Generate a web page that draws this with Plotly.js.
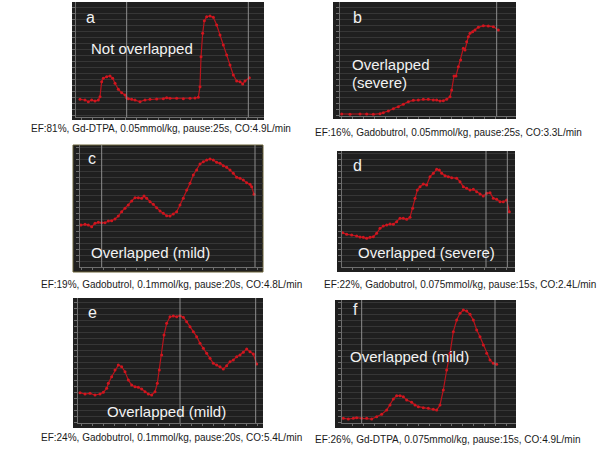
<!DOCTYPE html>
<html>
<head>
<meta charset="utf-8">
<script src="https://cdn.plot.ly/plotly-3.0.1.min.js"></script>
<style>html,body{margin:0;padding:0;background:#fff;}#chart{width:600px;height:450px;}</style>
</head>
<body>
<div id="chart"></div>
<script>
// ---- data (time units, signal intensity units) ----
const aTime=[3.0,4.5,5.5,6.5,7.5,8.5,9.0,9.5,10.0,11.0,12.0,12.8,13.5,14.5,15.5,16.5,17.0,17.5,18.5,19.5,21.0,22.5,24.0,26.0,28.0,29.0,30.0,32.0,34.0,36.0,37.5,38.5,39.0,39.3,39.8,40.3,41.0,42.0,43.0,44.0,45.0,46.0,47.0,48.0,49.0,50.0,51.0,51.8,52.5,53.8];
const aSignal=[102,100,95,100,97,100,110,155,165,170,172,165,150,132,122,115,107,104,102,100,95,100,102,103,104,107,105,105,104,105,106,108,140,230,300,338,350,352,348,325,295,265,235,205,175,157,155,148,157,167];
const aMarks=[17.0,53.5];

const bTime=[3.5,6.0,9.0,11.0,13.0,15.0,16.0,17.5,19.0,20.5,22.0,23.5,25.0,26.5,28.0,29.5,31.0,32.0,33.0,34.0,35.0,36.0,36.5,37.2,37.8,38.5,39.2,40.0,40.5,41.0,41.5,42.0,42.8,43.5,44.5,46.0,47.5,49.0,50.5];
const bSignal=[58,57,58,58,57,59,62,67,74,80,87,95,99,100,102,102,100,100,97,98,102,110,130,172,172,200,220,255,250,275,290,300,305,310,318,323,322,320,310];
const bMarks=[50.0];

const cTime=[3.3,4.5,5.5,6.5,7.5,8.5,9.5,10.5,11.5,12.5,13.5,14.5,15.5,16.5,17.5,18.5,19.5,20.5,21.5,22.2,23.0,24.0,25.0,26.0,27.0,28.0,29.0,30.0,31.0,32.0,33.0,34.0,35.0,36.0,37.0,38.0,39.0,40.0,41.0,42.0,43.0,44.0,45.0,46.0,47.0,48.0,49.0,50.0,51.0,52.0,53.0,54.0,54.5,55.2];
const cSignal=[145,147,145,140,150,153,152,152,157,158,163,172,185,195,205,217,227,227,225,232,225,215,207,197,187,180,173,172,178,185,205,225,250,270,295,310,328,335,340,343,340,333,330,323,318,310,300,288,285,280,272,267,260,237];
const cMarks=[9.5,55.5];

const dTime=[3.8,5.0,6.5,8.0,9.0,10.0,11.0,12.0,13.0,14.0,15.0,16.0,17.0,18.0,19.0,20.0,21.0,22.0,23.0,24.0,24.8,25.5,26.2,27.0,28.0,29.0,30.0,31.0,32.0,32.8,33.5,34.5,35.5,36.5,38.0,39.0,40.0,41.0,42.0,43.0,44.0,45.0,46.0,47.0,48.0,49.0,50.0,51.0,52.0,53.0,53.8];
const dSignal=[122,117,115,112,109,108,105,108,110,120,135,142,145,148,147,155,165,165,162,168,195,225,250,260,268,265,290,300,312,310,300,293,290,287,285,275,260,255,250,252,245,238,232,240,242,225,222,215,215,220,185];
const dMarks=[46.8,53.2];

const eTime=[3.0,4.5,6.0,7.5,9.0,10.0,11.0,11.5,12.5,13.5,14.5,15.5,16.5,17.5,18.5,19.5,20.5,21.5,22.5,23.5,24.5,25.5,26.2,26.8,27.5,28.2,29.0,30.0,31.0,32.0,33.0,34.0,35.0,36.0,37.0,38.0,39.0,40.0,41.0,42.0,43.0,44.0,45.0,46.0,47.0,48.0,49.0,50.0,51.0,52.0,53.0,54.0,55.0,56.0];
const eSignal=[107,103,105,100,103,108,120,135,155,175,190,185,170,145,130,125,123,118,110,103,100,110,135,175,220,280,315,335,337,335,338,333,320,305,290,275,255,240,225,210,195,190,185,178,188,200,205,215,220,228,238,230,223,193];
const eMarks=[33.0,55.7];

const fTime=[4.0,5.5,7.0,8.0,9.5,11.0,12.5,14.0,15.5,17.0,18.0,19.0,20.0,21.0,22.0,23.0,24.5,25.5,26.5,28.0,29.5,31.0,32.0,33.0,34.0,35.0,36.0,37.0,38.0,39.0,40.0,41.0,42.0,43.0,44.0,45.0,46.0,47.0,48.0,49.0,50.0];
const fSignal=[30,28,30,32,30,30,28,35,42,55,70,88,98,98,95,85,78,70,65,62,60,57,55,70,115,175,225,290,325,345,355,352,342,325,295,275,250,225,205,195,192];
const fMarks=[9.5,49.5];

const panelLetters=["a","b","c","d","e","f"];
const panelNotes=[["Not overlapped"],["Overlapped","(severe)"],["Overlapped (mild)"],["Overlapped (severe)"],["Overlapped (mild)"],["Overlapped (mild)"]];
const captions=[
 "EF:81%, Gd-DTPA, 0.05mmol/kg, pause:25s, CO:4.9L/min",
 "EF:16%, Gadobutrol, 0.05mmol/kg, pause:25s, CO:3.3L/min",
 "EF:19%, Gadobutrol, 0.1mmol/kg, pause:20s, CO:4.8L/min",
 "EF:22%, Gadobutrol, 0.075mmol/kg, pause:15s, CO:2.4L/min",
 "EF:24%, Gadobutrol, 0.1mmol/kg, pause:20s, CO:5.4L/min",
 "EF:26%, Gd-DTPA, 0.075mmol/kg, pause:15s, CO:4.9L/min"
];

// ---- layout geometry (pixels) ----
const W=600,H=450;
const geo=[
 {dom:[76,264,2,117],  rect:[72,264,2,120],  xr:[1.8,58.2], yr:[49,394], letter:[84,17], notes:[[89,48]], cap:[29,128]},
 {dom:[340,516,2,116], rect:[333,516,2,119], xr:[3.0,55.8], yr:[52,394], letter:[351,17], notes:[[350,65],[350,82]], cap:[313,132]},
 {dom:[80,263,145,267],rect:[73,263,145,272],xr:[3.0,57.9], yr:[19,385], letter:[86,158], notes:[[89,252]], cap:[39,284]},
 {dom:[342,515,151,267],rect:[337,515,151,272],xr:[3.6,55.5],yr:[19,367], letter:[351,165], notes:[[356,252]], cap:[322,284]},
 {dom:[78,263,298,423],rect:[73,263,298,428],xr:[2.4,57.9], yr:[16,391], letter:[86,312], notes:[[105,411]], cap:[39,437]},
 {dom:[342,516,300,423],rect:[335,516,300,428],xr:[3.6,55.8],yr:[16,385], letter:[351,309], notes:[[348,356]], cap:[313,439]}
];
const series=[[aTime,aSignal,aMarks],[bTime,bSignal,bMarks],[cTime,cSignal,cMarks],[dTime,dSignal,dMarks],[eTime,eSignal,eMarks],[fTime,fSignal,fMarks]];

const px=x=>x/W, py=y=>1-y/H;
const FONT="Liberation Sans, Arial, sans-serif";
const traces=[], shapes=[], annotations=[];
const layout={
  width:W,height:H,margin:{l:0,r:0,t:0,b:0},
  paper_bgcolor:"#ffffff",plot_bgcolor:"rgba(0,0,0,0)",
  showlegend:false,font:{family:FONT}
};

series.forEach((s,i)=>{
  const g=geo[i], n=i+1, sfx=n===1?"":String(n);
  traces.push({
    x:s[0],y:s[1],type:"scatter",mode:"lines+markers",
    xaxis:"x"+sfx,yaxis:"y"+sfx,
    line:{color:"#b8141c",width:1.2},
    marker:{color:"#d0161f",size:3},
    hoverinfo:"skip"
  });
  layout["xaxis"+sfx]={
    domain:[px(g.dom[0]),px(g.dom[1])],range:g.xr,anchor:"y"+sfx,
    showgrid:false,zeroline:false,showline:true,linecolor:"#6e6e6e",linewidth:1,
    ticks:"outside",ticklen:2,tickcolor:"#6e6e6e",dtick:3.3,tick0:0,showticklabels:false,fixedrange:true
  };
  layout["yaxis"+sfx]={
    domain:[py(g.dom[3]),py(g.dom[2])],range:g.yr,anchor:"x"+sfx,
    showgrid:true,gridcolor:"#363636",gridwidth:1,zeroline:false,showline:true,linecolor:"#6e6e6e",linewidth:1,
    ticks:"outside",ticklen:3,tickcolor:"#6e6e6e",dtick:18,tick0:0,showticklabels:false,fixedrange:true
  };
  // dark panel background
  shapes.push({type:"rect",xref:"paper",yref:"paper",layer:"below",
    x0:px(g.rect[0]),x1:px(g.rect[1]),y0:py(g.rect[3]),y1:py(g.rect[2]),
    fillcolor:"#1f1f1f",line:{width:i===2?1:0,color:"#6b6238"}});
  // vertical marker lines
  s[2].forEach(v=>{
    shapes.push({type:"line",xref:"x"+sfx,yref:"paper",x0:v,x1:v,
      y0:py(g.dom[3]),y1:py(g.dom[2]),
      layer:"above",line:{color:"#8c8c8c",width:1}});
  });
  annotations.push({xref:"paper",yref:"paper",x:px(g.letter[0]),y:py(g.letter[1]),
    xanchor:"left",yanchor:"middle",showarrow:false,text:panelLetters[i],
    font:{family:FONT,size:16,color:"#f2f2f2"}});
  panelNotes[i].forEach((t,k)=>{
    annotations.push({xref:"paper",yref:"paper",x:px(g.notes[k][0]),y:py(g.notes[k][1]),
      xanchor:"left",yanchor:"middle",showarrow:false,text:t,
      font:{family:FONT,size:15,color:"#f2f2f2"}});
  });
  annotations.push({xref:"paper",yref:"paper",x:px(g.cap[0]),y:py(g.cap[1]),
    xanchor:"left",yanchor:"middle",showarrow:false,text:captions[i],
    font:{family:FONT,size:10,color:"#1a1a1a"}});
});
layout.shapes=shapes;
layout.annotations=annotations;

Plotly.newPlot("chart",traces,layout,{displayModeBar:false,staticPlot:true});
</script>
</body>
</html>
